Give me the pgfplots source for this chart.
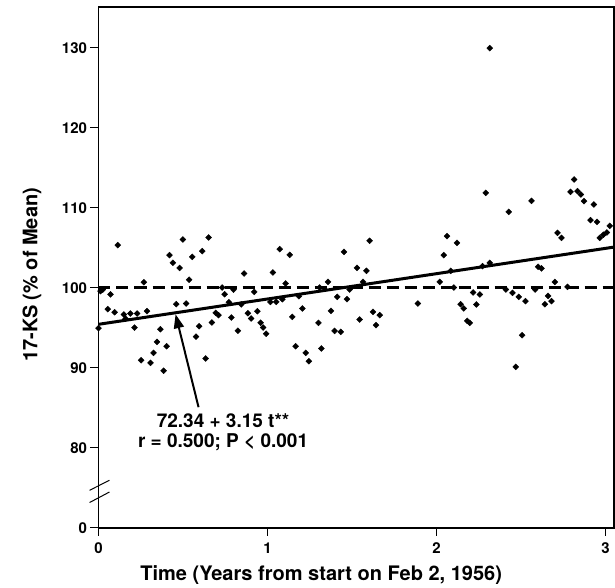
\documentclass[border=0pt]{standalone}
\usepackage{fontspec}
\setmainfont{TeX Gyre Heros}
\usepackage{pgfplots}
\usepackage{pgfplotstable}
\pgfplotsset{compat=1.18}
\usetikzlibrary{arrows.meta}
\pgfplotstableread{
x y
0.000 94.96
0.012 99.59
0.025 99.78
0.071 99.18
0.114 105.34
0.055 97.34
0.095 96.96
0.150 96.68
0.160 96.15
0.189 96.80
0.229 96.80
0.287 97.09
0.213 95.05
0.268 100.71
0.252 90.96
0.308 90.63
0.326 91.88
0.346 93.25
0.366 94.84
0.385 89.65
0.403 92.71
0.420 104.09
0.440 103.13
0.480 102.50
0.460 97.96
0.519 98.05
0.499 106.05
0.536 101.03
0.555 103.88
0.577 93.90
0.595 95.21
0.614 104.59
0.634 91.18
0.651 106.30
0.671 95.68
0.693 96.88
0.710 96.59
0.732 100.05
0.746 99.21
0.771 98.21
0.786 96.30
0.799 99.78
0.825 94.65
0.845 97.94
0.861 101.80
0.884 96.84
0.903 96.18
0.921 99.50
0.940 97.09
0.959 95.65
0.974 95.05
0.992 94.28
1.017 98.25
1.032 101.93
1.052 98.25
1.072 104.84
1.088 98.59
1.107 100.55
1.131 104.13
1.147 96.38
1.166 92.71
1.186 98.96
1.206 97.43
1.226 91.88
1.245 90.84
1.301 95.63
1.308 100.05
1.319 92.43
1.358 100.75
1.375 97.13
1.397 94.63
1.413 98.88
1.433 94.50
1.452 104.50
1.470 98.59
1.486 99.80
1.529 102.50
1.545 96.05
1.565 100.75
1.585 102.13
1.604 105.88
1.624 97.00
1.642 95.34
1.664 96.59
1.890 98.05
2.019 100.75
2.043 104.09
2.062 106.46
2.084 102.13
2.102 100.05
2.121 105.63
2.142 97.96
2.161 97.43
2.181 95.88
2.197 95.63
2.216 99.43
2.236 97.93
2.256 99.18
2.272 102.71
2.291 111.88
2.315 103.13
2.315 129.96
2.410 99.80
2.427 109.50
2.449 99.38
2.469 90.13
2.487 98.88
2.506 94.09
2.526 98.34
2.562 110.88
2.583 99.80
2.601 102.63
2.621 102.43
2.641 97.96
2.660 99.00
2.680 98.34
2.700 100.75
2.716 106.88
2.739 106.25
2.775 100.13
2.793 112.00
2.814 113.55
2.834 112.09
2.854 111.68
2.873 110.84
2.911 108.46
2.931 110.43
2.950 108.25
2.966 106.25
2.987 106.65
3.008 106.93
3.025 107.75
}\pts
\begin{document}
\begin{tikzpicture}
\path[use as bounding box] (-98.5pt,-60pt) rectangle (516.5pt,528pt);
\begin{axis}[
  scale only axis, width=515.5pt, height=521pt,
  xmin=0, xmax=3.05, ymin=70, ymax=135.1,
  xtick={0,1,2,3},
  ytick={70,80,90,100,110,120,130},
  yticklabels={0,80,90,100,110,120,130},
  tick align=outside, tick pos=left,
  major tick length=8pt,
  axis line style={line width=1.1pt},
  tick style={line width=1pt, black},
  clip=false,
  ticklabel style={font=\bfseries\fontsize{15}{18}\selectfont},
  xticklabel style={yshift=-3pt},
  /pgf/number format/assume math mode=true,
  xlabel={Time (Years from start on Feb 2, 1956)},
  ylabel={17-KS (\% of Mean)},
  label style={font=\bfseries\fontsize{20}{24}\selectfont},
  xlabel style={at={(axis description cs:0.432,-0.1017)}, anchor=base},
  ylabel style={at={(axis description cs:-0.129,0.486)}, anchor=center},
]
\addplot[line width=3pt, dash pattern=on 12pt off 6pt] coordinates {(0,100) (3.05,100)};
\addplot[line width=3pt] coordinates {(0,95.45) (3.05,105.1)};
\addplot[only marks, mark=square*, mark size=2.1pt, mark options={rotate=45, black}, black] table[x=x,y=y] {\pts};
\draw[line width=2pt, -{Triangle[length=14pt,width=10pt]}] (axis cs:0.592,85.09) -- (axis cs:0.456,96.71);
\node[align=center, font=\bfseries\fontsize{19}{20}\selectfont] at (axis cs:0.737,81.95) {72.34 + 3.15 t**\\r = 0.500; P < 0.001};
\draw[line width=1pt] (axis cs:-0.053,74.71) -- (axis cs:0.065,75.96);
\draw[line width=1pt] (axis cs:-0.053,73.18) -- (axis cs:0.065,74.50);
\end{axis}
\end{tikzpicture}
\end{document}
